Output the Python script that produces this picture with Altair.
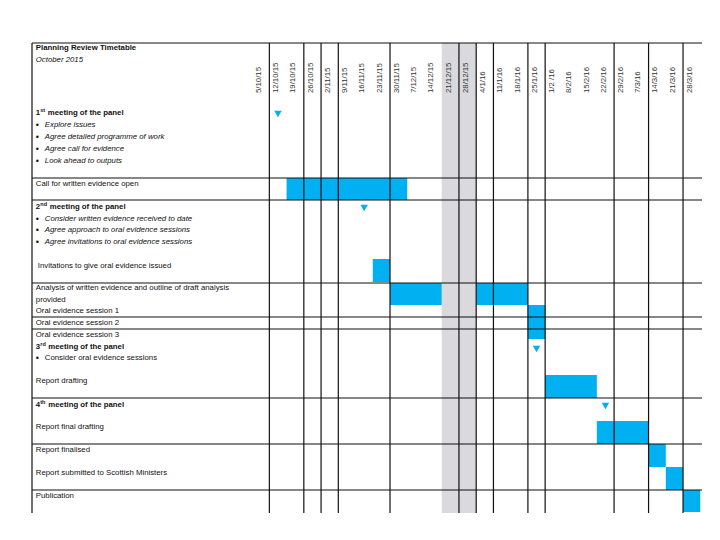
import altair as alt
import pandas as pd

FONT = "Liberation Sans, Arial, sans-serif"
BLUE = "#00b0f0"
GREY = "#d9d9de"

# ---- data -------------------------------------------------------------
week_labels = ["5/10/15", "12/10/15", "19/10/15", "26/10/15", "2/11/15", "9/11/15",
               "16/11/15", "23/11/15", "30/11/15", "7/12/15", "14/12/15", "21/12/15",
               "28/12/15", "4/1/16", "11/1/16", "18/1/16", "25/1/16", "1/2 /16",
               "8/2/16", "15/2/16", "22/2/16", "29/2/16", "7/3/16", "14/3/16",
               "21/3/16", "28/3/16"]

# Gantt bars: first week index, week index after the last week, row band (table units)
bar_task = ["Call for written evidence open", "Invitations to give oral evidence issued",
            "Analysis (before holiday)", "Analysis (after holiday)", "Oral evidence sessions 1-3",
            "Report drafting", "Report final drafting", "Report finalised",
            "Report submitted to Scottish Ministers", "Publication"]
bar_start = [2, 7, 8, 13, 16, 17, 20, 23, 24, 25]
bar_end = [9, 8, 11, 16, 17, 20, 23, 24, 25, 26]
bar_top = [135, 216, 240, 240, 262, 332, 378, 401, 424, 447]
bar_bottom = [157, 239, 262, 262, 296, 355, 401, 424, 447, 469]

# panel meetings (milestones)
meeting_week = [1, 6, 16, 20]
meeting_row = [71, 165, 306, 363]

# holiday weeks shaded grey
holiday_start = [11]
holiday_end = [13]

# table rules
row_rules = [0, 135, 157, 240, 274, 286, 355, 401, 447]
col_rules = [1, 3, 4, 5, 8, 12, 13, 14, 16, 17, 21, 23, 25]

# row texts
title_text = ["Planning Review Timetable"]
title_row = [5]
subtitle_text = ["October 2015"]
subtitle_row = [17]

heading_num = ["1", "2", "3", "4"]
heading_sup = ["st", "nd", "rd", "th"]
heading_row = [70, 164, 304, 362]
heading_gap = [12, 14, 12.5, 12.5]

bullet_text = ["Explore issues", "Agree detailed programme of work", "Agree call for evidence",
               "Look ahead to outputs", "Consider written evidence received to date",
               "Agree approach to oral evidence sessions",
               "Agree invitations to oral evidence sessions"]
bullet_row = [82, 94, 106, 118, 176, 187, 199]
plain_bullet_text = ["Consider oral evidence sessions"]
plain_bullet_row = [315]

task_text = ["Call for written evidence open",
             "Analysis of written evidence and  outline of draft analysis", "provided",
             "Oral evidence session 1", "Oral evidence session 2", "Oral evidence session 3",
             "Report drafting", "Report final drafting", "Report finalised",
             "Report submitted to Scottish Ministers", "Publication"]
task_row = [141, 245, 257, 268, 280, 292, 338, 384, 407, 430, 453]
indented_text = ["Invitations to give oral evidence issued"]
indented_row = [223]

X_MIN, X_MAX = -12.77, 26.1
Y_MAX = 470
LABEL_X = -12.55
HEADER_ROW = 50
FS = 7.8

# ---- chart --------------------------------------------------------------
xs = alt.Scale(domain=[X_MIN, X_MAX], nice=False, zero=False)
ys = alt.Scale(domain=[0, Y_MAX], nice=False, zero=False, reverse=True)


def X(f):
    return alt.X(f, type="quantitative", scale=xs, axis=None)


def Y(f):
    return alt.Y(f, type="quantitative", scale=ys, axis=None)


holiday = pd.DataFrame({"x0": holiday_start, "x1": holiday_end, "y0": 0, "y1": Y_MAX})
bars = pd.DataFrame({"task": bar_task, "x0": bar_start, "x1": bar_end,
                     "y0": bar_top, "y1": bar_bottom})
meet = pd.DataFrame({"x": [w + 0.5 for w in meeting_week], "y": meeting_row})
vrules = pd.DataFrame({"x": [X_MIN] + col_rules, "y0": 0, "y1": Y_MAX})
hrules = pd.DataFrame({"y": row_rules, "x0": X_MIN, "x1": X_MAX})
dates = pd.DataFrame({"label": week_labels,
                      "x": [i + 0.4 for i in range(len(week_labels))],
                      "y": HEADER_ROW})

layers = []
layers.append(alt.Chart(holiday).mark_rect(color=GREY).encode(
    x=X("x0"), x2="x1", y=Y("y0"), y2="y1"))
layers.append(alt.Chart(bars).mark_rect(color=BLUE).encode(
    x=X("x0"), x2="x1", y=Y("y0"), y2="y1"))
layers.append(alt.Chart(vrules).mark_rule(color="#111", strokeWidth=1.2).encode(
    x=X("x"), y=Y("y0"), y2="y1"))
layers.append(alt.Chart(hrules).mark_rule(color="#111", strokeWidth=1.2).encode(
    x=X("x0"), x2="x1", y=Y("y")))
layers.append(alt.Chart(meet).mark_point(shape="triangle-down", filled=True, opacity=1,
                                         size=55, color=BLUE).encode(x=X("x"), y=Y("y")))
layers.append(alt.Chart(dates).mark_text(angle=270, align="left", baseline="middle",
                                         font=FONT, fontSize=FS, color="#333").encode(
    x=X("x"), y=Y("y"), text="label"))


def text_layer(texts, rows, dx=0, dy=0, size=FS, weight="normal", style="normal"):
    df = pd.DataFrame({"t": texts, "y": rows, "x": LABEL_X})
    return alt.Chart(df).mark_text(align="left", baseline="middle", font=FONT,
                                   fontSize=size, fontWeight=weight, fontStyle=style,
                                   dx=dx, dy=dy, color="#111").encode(
        x=X("x"), y=Y("y"), text="t")


layers.append(text_layer(title_text, title_row, weight="bold"))
layers.append(text_layer(subtitle_text, subtitle_row, style="italic"))
layers.append(text_layer(heading_num, heading_row, weight="bold"))
layers.append(text_layer(heading_sup, heading_row, dx=4.5, dy=-3, size=5.5, weight="bold"))
for row, gap in zip(heading_row, heading_gap):
    layers.append(text_layer(["meeting of the panel"], [row], dx=gap, weight="bold"))
layers.append(text_layer(["\u2022"] * (len(bullet_row) + len(plain_bullet_row)),
                         bullet_row + plain_bullet_row, size=9))
layers.append(text_layer(bullet_text, bullet_row, dx=9, style="italic"))
layers.append(text_layer(plain_bullet_text, plain_bullet_row, dx=9))
layers.append(text_layer(task_text, task_row))
layers.append(text_layer(indented_text, indented_row, dx=2))

chart = alt.layer(*layers).properties(
    width=670, height=470,
    autosize=alt.AutoSizeParams(type="none"),
    padding={"left": 24, "top": 35, "right": 0, "bottom": 0},
).configure_view(stroke=None)

chart.save("out.html", embed_options={"renderer": "svg", "actions": False})
